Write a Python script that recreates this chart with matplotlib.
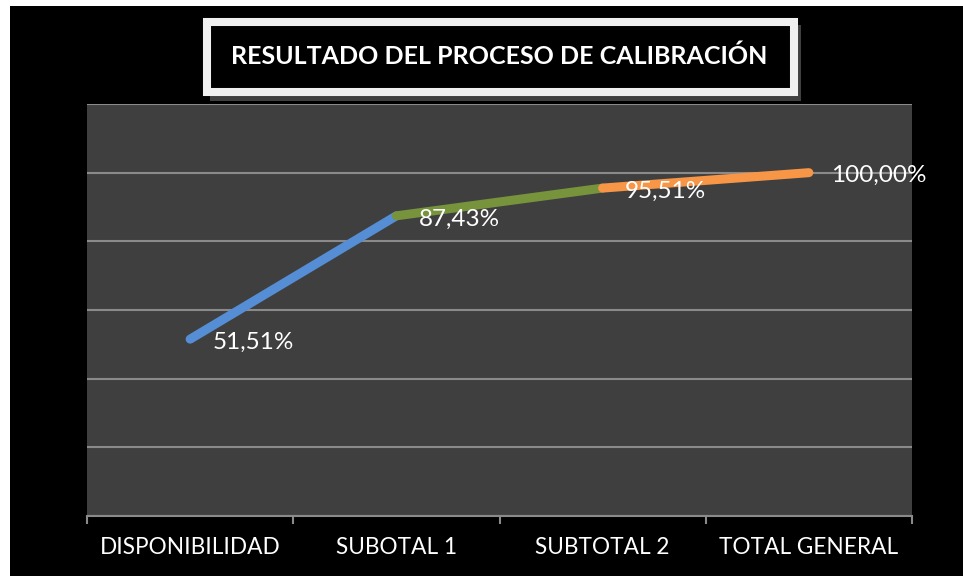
import matplotlib.pyplot as plt
from matplotlib.patches import Rectangle

# datos
categorias = ['DISPONIBILIDAD', 'SUBOTAL 1', 'SUBTOTAL 2', 'TOTAL GENERAL']
valores = [51.51, 87.43, 95.51, 100.00]
etiquetas = ['51,51%', '87,43%', '95,51%', '100,00%']
colores_tramo = ['#558ED5', '#77933C', '#F79646']
titulo = 'RESULTADO DEL PROCESO DE CALIBRACIÓN'

W, H = 963, 576
fig = plt.figure(figsize=(W / 100, H / 100), dpi=100, facecolor='white')

def px(x, y, w, h):
    # rectangulo en pixeles (origen arriba-izquierda) -> coordenadas de figura
    return (x / W, 1 - (y + h) / H), w / W, h / H

# fondo negro con margen blanco arriba y a la izquierda
xy, w, h = px(10, 6, W - 10, H - 6)
fig.patches.append(Rectangle(xy, w, h, transform=fig.transFigure,
                             facecolor='black', edgecolor='none', zorder=-5))

ax = fig.add_axes([87 / W, 1 - 516 / H, (912 - 87) / W, (516 - 104) / H])
ax.set_facecolor('#3F3F3F')

x = list(range(len(categorias)))
for i in range(len(valores) - 1):
    ax.plot(x[i:i + 2], valores[i:i + 2], color=colores_tramo[i], lw=6.5,
            solid_capstyle='round', zorder=3 + i)

for i in range(len(valores)):
    ax.annotate(etiquetas[i], (x[i], valores[i]), xytext=(16, -2.2),
                textcoords='offset points', ha='left', va='center',
                color='white', fontsize=17.5, family='Lato', zorder=10,
                annotation_clip=False)

ax.set_xlim(-0.5, len(categorias) - 0.5)
ax.set_ylim(0, 120)
ax.set_yticks(range(0, 121, 20))
ax.yaxis.grid(True, color='#8A8A8A', lw=1.5)
ax.set_axisbelow(True)
ax.tick_params(axis='y', left=False, labelleft=False)

ax.set_xticks(x)
ax.set_xticklabels(categorias, color='white', fontsize=16.3, family='Lato')
ax.set_xticks([i - 0.5 for i in range(len(categorias) + 1)], minor=True)
ax.tick_params(axis='x', which='major', length=0, pad=15)
ax.tick_params(axis='x', which='minor', length=6, width=1.5, color='#8A8A8A',
               direction='out')

for s in ['left', 'right', 'top']:
    ax.spines[s].set_visible(False)
ax.spines['bottom'].set_color('#8A8A8A')
ax.spines['bottom'].set_linewidth(1.5)

# caja del titulo con sombra
xy, w, h = px(210, 25, 591, 76)
fig.patches.append(Rectangle(xy, w, h, transform=fig.transFigure,
                             facecolor='#404040', edgecolor='none', zorder=1))
xy, w, h = px(207, 22, 587, 70)
fig.patches.append(Rectangle(xy, w, h, transform=fig.transFigure,
                             facecolor='black', edgecolor='#F0F0F0', lw=5.8,
                             zorder=2))
fig.text(499 / W, 1 - 56 / H, titulo, ha='center', va='center', color='white',
         fontsize=18, fontweight='bold', family='Lato', zorder=3)

fig.savefig('out.png', dpi=100, facecolor=fig.get_facecolor())
